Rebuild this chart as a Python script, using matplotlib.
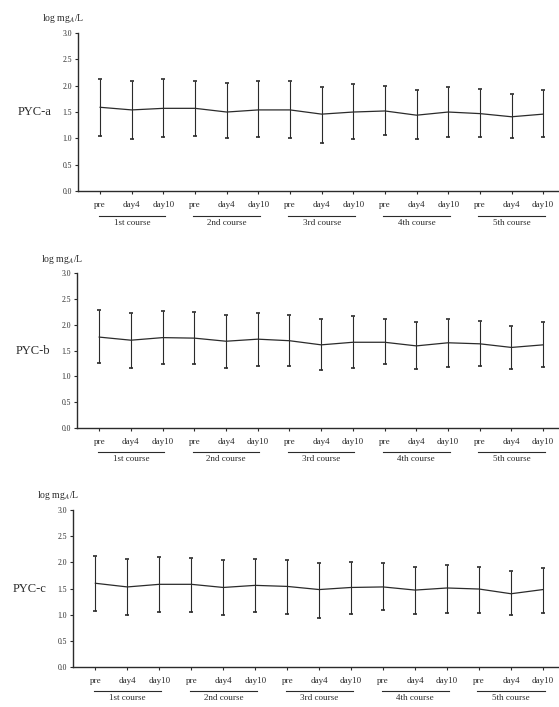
import matplotlib.pyplot as plt
import numpy as np

plt.rcParams['font.family'] = 'Liberation Serif'
plt.rcParams['mathtext.fontset'] = 'stix'

timepoints = ["pre", "day4", "day10"] * 5
courses = ["1st course", "2nd course", "3rd course", "4th course", "5th course"]
y_ticks = [0.0, 0.5, 1.0, 1.5, 2.0, 2.5, 3.0]

# mean, upper end and lower end of each bar (log mg_A/L)
pyc_a_mean = [1.59, 1.54, 1.57, 1.57, 1.50, 1.54, 1.54, 1.46, 1.50, 1.52, 1.44, 1.50, 1.47, 1.41, 1.46]
pyc_a_hi = [2.13, 2.08, 2.12, 2.09, 2.05, 2.08, 2.08, 1.98, 2.04, 1.99, 1.92, 1.97, 1.94, 1.84, 1.92]
pyc_a_lo = [1.04, 0.98, 1.03, 1.04, 1.00, 1.03, 1.01, 0.92, 0.98, 1.06, 0.98, 1.03, 1.03, 1.00, 1.03]

pyc_b_mean = [1.76, 1.70, 1.75, 1.74, 1.68, 1.72, 1.69, 1.61, 1.66, 1.66, 1.59, 1.65, 1.63, 1.56, 1.61]
pyc_b_hi = [2.28, 2.23, 2.26, 2.24, 2.19, 2.23, 2.19, 2.12, 2.16, 2.11, 2.06, 2.11, 2.08, 1.97, 2.06]
pyc_b_lo = [1.25, 1.16, 1.23, 1.23, 1.16, 1.21, 1.21, 1.13, 1.16, 1.23, 1.14, 1.19, 1.21, 1.14, 1.19]

pyc_c_mean = [1.60, 1.53, 1.58, 1.58, 1.52, 1.56, 1.54, 1.48, 1.52, 1.53, 1.47, 1.51, 1.49, 1.40, 1.48]
pyc_c_hi = [2.12, 2.07, 2.11, 2.09, 2.04, 2.07, 2.04, 1.99, 2.01, 1.98, 1.91, 1.95, 1.91, 1.83, 1.90]
pyc_c_lo = [1.07, 0.99, 1.05, 1.05, 1.00, 1.05, 1.02, 0.94, 1.01, 1.08, 1.01, 1.04, 1.04, 0.99, 1.03]

panels = [
    ("PYC-a", pyc_a_mean, pyc_a_hi, pyc_a_lo),
    ("PYC-b", pyc_b_mean, pyc_b_hi, pyc_b_lo),
    ("PYC-c", pyc_c_mean, pyc_c_hi, pyc_c_lo),
]

# axes rectangles in figure fractions (left, bottom, width, height)
rects = [
    (0.1395, 0.7298, 0.8605, 0.2235),
    (0.1378, 0.3946, 0.8622, 0.2192),
    (0.1306, 0.0566, 0.8694, 0.2220),
]

ink = '#2b2b2b'
fig = plt.figure(figsize=(5.59, 7.07), dpi=100)
x = np.arange(len(timepoints))

for (name, mean, hi, lo), rect in zip(panels, rects):
    ax = fig.add_axes(rect)
    mean = np.array(mean)
    yerr = [mean - np.array(lo), np.array(hi) - mean]
    ax.errorbar(x, mean, yerr=yerr, color=ink, lw=0.9, elinewidth=0.8,
                capsize=1.5, capthick=1.2)
    ax.set_xlim(-0.7, 14.5)
    ax.set_ylim(0, 3.0)
    ax.set_yticks(y_ticks)
    ax.set_yticklabels([f"{v:.1f}" for v in y_ticks])
    ax.set_xticks(x)
    ax.set_xticklabels(timepoints)
    ax.spines['top'].set_visible(False)
    ax.spines['right'].set_visible(False)
    for s in ('left', 'bottom'):
        ax.spines[s].set_color(ink)
        ax.spines[s].set_linewidth(1.0)
    ax.tick_params(axis='y', labelsize=5.5, length=2.5, width=0.8, colors=ink, pad=2)
    ax.tick_params(axis='x', labelsize=6.5, length=2, width=0.8, colors=ink, pad=5)

    # course underlines and names
    tr = ax.get_xaxis_transform()
    for i, course in enumerate(courses):
        ax.plot([3 * i - 0.05, 3 * i + 2.05], [-0.155, -0.155], transform=tr,
                color=ink, lw=0.8, clip_on=False)
        ax.text(3 * i + 1, -0.175, course, transform=tr, ha='center', va='top',
                fontsize=6.5, color=ink)

    ax.text(-0.055, 0.5, name, transform=ax.transAxes, ha='right', va='center',
            fontsize=9, color=ink)
    ax.text(-0.03, 1.09, "log mg$_A$/L", transform=ax.transAxes, ha='center',
            va='center', fontsize=7, color=ink)

fig.savefig("out.png", dpi=100)
